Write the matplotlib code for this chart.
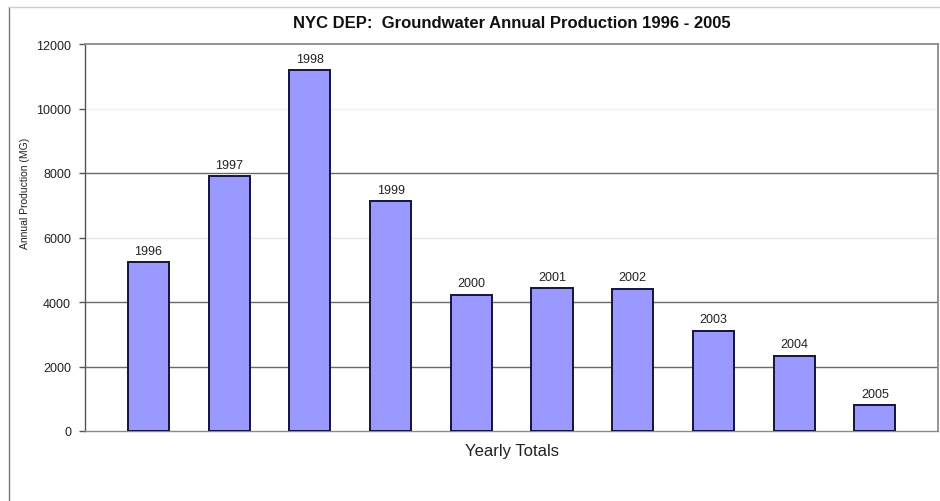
import matplotlib
matplotlib.use("Agg")
import matplotlib.pyplot as plt
from matplotlib.lines import Line2D

plt.rcParams['font.family'] = ['Liberation Sans', 'DejaVu Sans']

years = ["1996", "1997", "1998", "1999", "2000", "2001", "2002", "2003", "2004", "2005"]
production = [5230, 7900, 11190, 7120, 4230, 4430, 4410, 3100, 2340, 800]
yticks = [0, 2000, 4000, 6000, 8000, 10000, 12000]

W, H = 940, 502
fig = plt.figure(figsize=(W / 100, H / 100), dpi=100)
fig.patch.set_facecolor('white')

# axes placement in pixels
left, right, top, bottom = 85, 938, 45, 432
ax = fig.add_axes([left / W, 1 - bottom / H, (right - left) / W, (bottom - top) / H])

x = list(range(len(years)))
ax.bar(x, production, width=0.51, color='#9999FF', edgecolor='#14143C', linewidth=1.4, zorder=3)

ax.set_xlim(-0.787, 9.783)
ax.set_ylim(0, 12000)
ax.set_yticks(yticks)
ax.set_yticklabels([str(t) for t in yticks], fontsize=9)
ax.set_xticks([])

# gridlines (some appear faint in the reference)
grid_colors = {2000: '#6a6a6a', 4000: '#6a6a6a', 6000: '#e6e6e6', 8000: '#6a6a6a', 10000: '#eeeeee'}
for yv, c in grid_colors.items():
    ax.axhline(yv, color=c, linewidth=1.0, zorder=1)

for s in ['top', 'right']:
    ax.spines[s].set_color('#8a8a8a')
    ax.spines[s].set_linewidth(1.3)
ax.spines['left'].set_color('#555555')
ax.spines['left'].set_linewidth(1.0)
ax.spines['bottom'].set_color('#8a8a8a')
ax.spines['bottom'].set_linewidth(1.0)
ax.tick_params(axis='y', direction='out', length=4, width=1, color='#555555', pad=6, labelcolor='#222222')

for xi, yr, v in zip(x, years, production):
    ax.annotate(yr, (xi, v), xytext=(0, 4), textcoords='offset points',
                ha='center', va='bottom', fontsize=9, color='#222222')

fig.text(512 / W, 1 - 24 / H, "NYC DEP:  Groundwater Annual Production 1996 - 2005",
         ha='center', va='center', fontsize=12, fontweight='bold', color='#111111')
fig.text(512 / W, 1 - 452 / H, "Yearly Totals", ha='center', va='center', fontsize=12, color='#222222')
fig.text(25 / W, 1 - 193 / H, "Annual Production (MG)", ha='center', va='center',
         rotation=90, fontsize=7.5, color='#222222')

# outer chart frame (left and top visible)
fig.add_artist(Line2D([9 / W, 9 / W], [0, 1 - 8 / H], transform=fig.transFigure, color='#777777', linewidth=1.0))
fig.add_artist(Line2D([9 / W, 1], [1 - 8 / H, 1 - 8 / H], transform=fig.transFigure, color='#cccccc', linewidth=1.0))

fig.savefig("out.png", dpi=100)
